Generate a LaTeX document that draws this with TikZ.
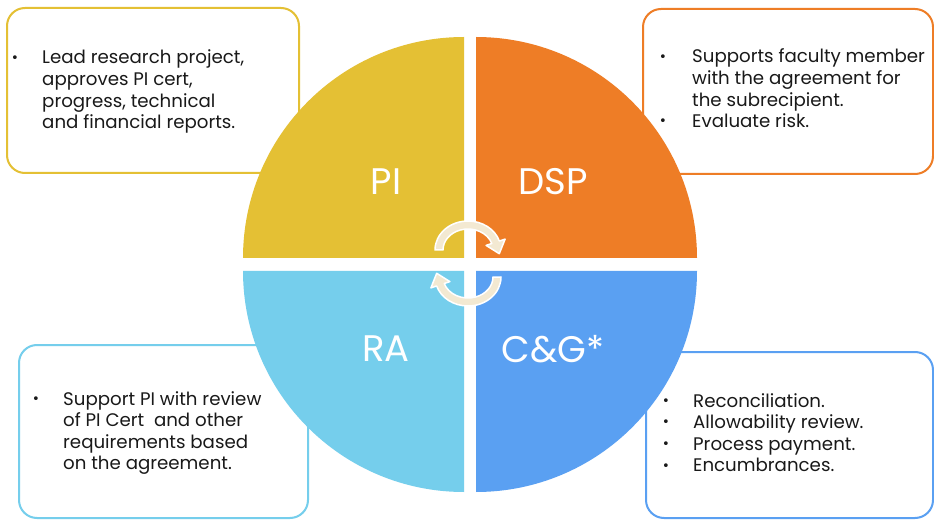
\documentclass[tikz,border=0pt]{standalone}
\usepackage{fontspec}
\setmainfont{Poppins}
\newfontfamily\bulletfont{DejaVu Sans}
\usetikzlibrary{calc}
\definecolor{cyel}{RGB}{228,192,52}
\definecolor{corg}{RGB}{238,125,38}
\definecolor{clb}{RGB}{117,206,236}
\definecolor{cblu}{RGB}{90,160,242}
\definecolor{ccream}{RGB}{243,233,210}
\definecolor{ctext}{RGB}{25,25,25}
\newcommand{\bul}{\raisebox{1.8pt}{\bulletfont\fontsize{13}{13}\selectfont •}}
\begin{document}
\begin{tikzpicture}[x=1pt,y=1pt,
  infobox/.style={draw=#1, line width=2pt, rounded corners=18pt, fill=white, inner sep=0pt, anchor=north west},
  qlabel/.style={text=white, font=\fontsize{37}{40}\selectfont, inner sep=0pt},
  bodytext/.style={font=\fontsize{18.2}{21.6}\selectfont, inner sep=0pt, anchor=base west, text=ctext},
  cyclearrow/.style={fill=ccream, draw=white, line width=1.5pt, line join=round}
]
\useasboundingbox (0,0) rectangle (934,520);
\fill[white] (0,0) rectangle (934,520);

% info boxes
\node[infobox=cyel, minimum width=292pt, minimum height=165pt] (pibox) at (6,513) {};
\node[infobox=corg, minimum width=290pt, minimum height=165pt] (dspbox) at (642,512) {};
\node[infobox=clb, minimum width=289pt, minimum height=173pt] (rabox) at (18,176) {};
\node[infobox=cblu, minimum width=287pt, minimum height=166pt] (cgbox) at (645,169) {};

% quadrants
\fill[cyel] (464,262) -- ++(-221,0) arc[start angle=180,end angle=90,radius=221] -- cycle;
\fill[corg] (476,262) -- ++(221,0) arc[start angle=0,end angle=90,radius=221] -- cycle;
\fill[clb] (464,249) -- ++(-221,0) arc[start angle=180,end angle=270,radius=221] -- cycle;
\fill[cblu] (476,249) -- ++(221,0) arc[start angle=0,end angle=-90,radius=221] -- cycle;

% quadrant labels
\node[qlabel] (pil) at (386,338) {PI};
\node[qlabel] (dspl) at (553,338) {DSP};
\node[qlabel] (ral) at (386,171) {RA};
\node[qlabel] (cgl) at (553,171) {C\&G*};

% cycle arrows
\path[cyclearrow] (435,270) arc[start angle=180,end angle=18,x radius=33,y radius=29]
  -- (505.1,280.9) -- (499.3,266.3) -- (486.1,274.6) -- (491.8,276.5)
  arc[start angle=18,end angle=180,x radius=25,y radius=21] -- cycle;
\begin{scope}[rotate around={180:(468,256.5)}]
\path[cyclearrow] (435,270) arc[start angle=180,end angle=18,x radius=33,y radius=29]
  -- (505.1,280.9) -- (499.3,266.3) -- (486.1,274.6) -- (491.8,276.5)
  arc[start angle=18,end angle=180,x radius=25,y radius=21] -- cycle;
\end{scope}

% texts
\node[bodytext] (pitext) at (11,456) {\begin{tabular}[t]{@{}p{31pt}@{}l@{}}
\bul & Lead research project,\\
 & approves PI cert,\\
 & progress, technical\\
 & and financial reports.
\end{tabular}};
\node[bodytext] (dsptext) at (659,457) {\begin{tabular}[t]{@{}p{33pt}@{}l@{}}
\bul & Supports faculty member\\
 & with the agreement for\\
 & the subrecipient.\\
\bul & Evaluate risk.
\end{tabular}};
\node[bodytext] (ratext) at (32,115) {\begin{tabular}[t]{@{}p{31pt}@{}l@{}}
\bul & Support PI with review\\
 & of PI Cert\ \ and other\\
 & requirements based\\
 & on the agreement.
\end{tabular}};
\node[bodytext] (cgtext) at (662,113) {\begin{tabular}[t]{@{}p{31pt}@{}l@{}}
\bul & Reconciliation.\\
\bul & Allowability review.\\
\bul & Process payment.\\
\bul & Encumbrances.
\end{tabular}};
\end{tikzpicture}
\end{document}
